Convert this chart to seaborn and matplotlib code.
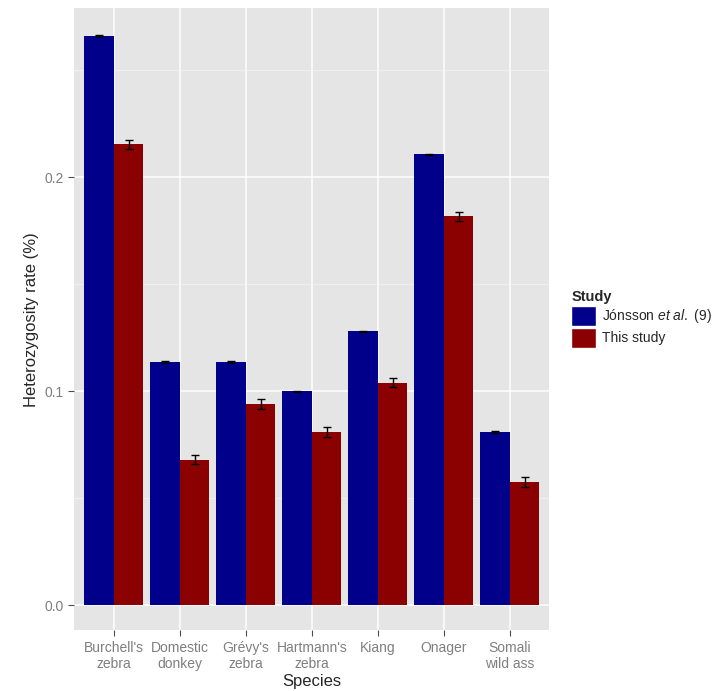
import matplotlib
matplotlib.use("Agg")
import matplotlib.pyplot as plt
import seaborn as sns
import pandas as pd
import numpy as np
from matplotlib.patches import Patch

species = ["Burchell's\nzebra", "Domestic\ndonkey", "Grévy's\nzebra", "Hartmann's\nzebra", "Kiang", "Onager", "Somali\nwild ass"]
jonsson = [0.266, 0.1136, 0.1136, 0.100, 0.128, 0.2107, 0.081]
jonsson_err = [0.0004, 0.0003, 0.0003, 0.0003, 0.0003, 0.0003, 0.0003]
this_study = [0.2154, 0.068, 0.094, 0.081, 0.104, 0.1818, 0.0575]
this_err = [0.0022, 0.0022, 0.0022, 0.0022, 0.0022, 0.0022, 0.0022]
studies = ["Jónsson", "This study"]
colors = ["#00008B", "#8B0000"]

df = pd.DataFrame({
    "Species": species * 2,
    "rate": jonsson + this_study,
    "Study": [studies[0]] * 7 + [studies[1]] * 7,
})

sns.set_theme(style="darkgrid", rc={"axes.facecolor": "#E5E5E5", "grid.color": "white"})
plt.rcParams['font.family'] = ['Liberation Sans', 'DejaVu Sans']
plt.rcParams['mathtext.fontset'] = 'custom'
plt.rcParams['mathtext.it'] = 'Liberation Sans:italic'
plt.rcParams['mathtext.rm'] = 'Liberation Sans'
fig = plt.figure(figsize=(7.2, 6.91), dpi=100)
ax = fig.add_axes([0.103, 0.088, 0.66, 0.9])
sns.barplot(data=df, x="Species", y="rate", hue="Study", palette=colors,
            errorbar=None, width=0.9, saturation=1, ax=ax, legend=False)
for p in ax.patches:
    p.set_edgecolor("none")
x = np.arange(len(species))
ax.errorbar(x - 0.225, jonsson, yerr=jonsson_err, fmt="none", ecolor="black", capsize=3, elinewidth=1)
ax.errorbar(x + 0.225, this_study, yerr=this_err, fmt="none", ecolor="black", capsize=3, elinewidth=1)

ax.set_ylim(-0.0117, 0.279)
ax.set_xlim(-0.6, 6.6)
ax.set_yticks([0.0, 0.1, 0.2])
ax.set_yticklabels(["0.0", "0.1", "0.2"])
ax.set_yticks([0.05, 0.15, 0.25], minor=True)
ax.grid(which="major", color="white", linewidth=1.1)
ax.grid(which="minor", axis="y", color="#F2F2F2", linewidth=0.6)
ax.tick_params(axis="both", colors="#4D4D4D", labelsize=10, length=4, width=0.8, left=True, bottom=True, labelcolor="#7F7F7F")
for s in ax.spines.values():
    s.set_visible(False)
ax.set_xlabel("Species", fontsize=12, labelpad=2)
ax.set_ylabel("Heterozygosity rate (%)", fontsize=12)

handles = [Patch(facecolor=colors[0]), Patch(facecolor=colors[1])]
labels = [r"Jónsson $\mathit{et\ al.}$ ($\mathit{9}$)", "This study"]
leg = ax.legend(handles, labels, title="Study", loc="center left", bbox_to_anchor=(1.02, 0.5),
                frameon=False, fontsize=10, title_fontsize=10.5, handlelength=1.8, handleheight=1.9,
                handletextpad=0.4, labelspacing=0.1)
leg.get_title().set_fontweight("bold")
leg._legend_box.align = "left"
fig.savefig("out.png", dpi=100)
